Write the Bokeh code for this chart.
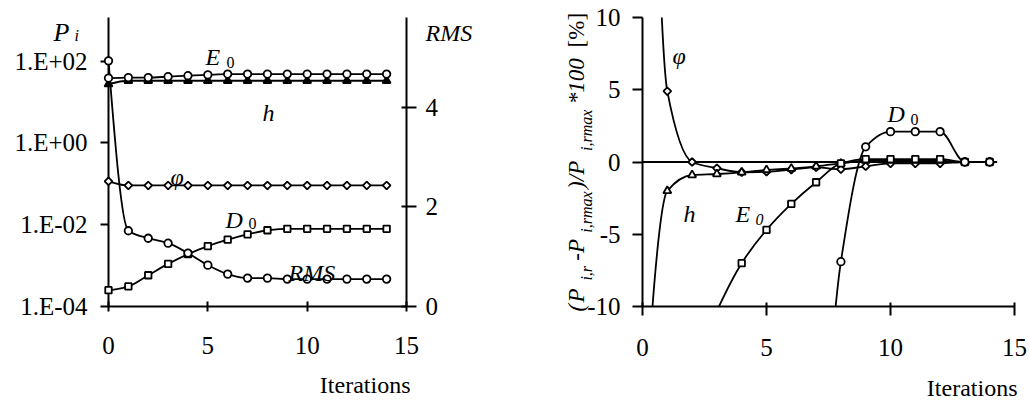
import numpy as np
from bokeh.plotting import figure
from bokeh.models import Range1d, LinearAxis, FixedTicker, CustomJSTickFormatter, LinearScale
from bokeh.core.properties import value
from bokeh.layouts import row
from bokeh.embed import file_html
from bokeh.resources import INLINE

# ---------------- data ----------------
iterations = list(range(15))

# left chart (P_i on log axis, RMS on right axis)
E0_left = [38.4, 39.5, 39.5, 41.5, 43.8, 46.0, 48.0, 48.0, 48.0, 48.0, 48.0, 48.0, 48.0, 48.0, 48.0]
h_left = [27.3, 33.0, 33.0, 33.0, 33.0, 33.0, 33.0, 33.0, 33.0, 33.0, 33.0, 33.0, 33.0, 33.0, 33.0]
phi_left = [0.115, 0.091, 0.091, 0.091, 0.091, 0.091, 0.091, 0.091, 0.091, 0.091, 0.091, 0.091, 0.091, 0.091, 0.091]
D0_left = [2.5e-4, 3.1e-4, 5.8e-4, 1.1e-3, 1.9e-3, 3.0e-3, 4.3e-3, 5.8e-3, 7.3e-3, 7.9e-3, 7.9e-3, 7.9e-3, 7.9e-3, 7.9e-3, 7.9e-3]
RMS = [4.93, 1.52, 1.37, 1.27, 1.07, 0.83, 0.65, 0.57, 0.57, 0.55, 0.55, 0.55, 0.55, 0.55, 0.55]

left_ticks = [1e-4, 1e-2, 1e0, 1e2]
rms_ticks = [0, 2, 4]
x_ticks = [0, 5, 10, 15]

# right chart: relative deviation in %
phi_right = [60.0, 4.9, 0.0, -0.43, -0.71, -0.67, -0.53, -0.37, -0.5, -0.3, -0.1, -0.1, -0.1, 0.0, 0.0]
h_right = [-20.0, -2.0, -0.9, -0.83, -0.72, -0.55, -0.45, -0.3, -0.1, 0.1, 0.1, 0.1, 0.1, 0.0, 0.0]
E0_right = [-17.0, -16.0, -14.5, -10.3, -7.0, -4.7, -2.9, -1.4, -0.1, 0.2, 0.2, 0.2, 0.2, 0.0, 0.0]
D0_right = [-97.0, -96.0, -93.0, -86.0, -76.0, -62.0, -46.0, -26.0, -6.9, 1.05, 2.1, 2.1, 2.1, 0.0, 0.0]
right_yticks = [-10, -5, 0, 5, 10]

FONT = "Liberation Serif"
LW = 1.8
TICK_FS = "25px"

# ---------------- layout constants (pixels) ----------------
L_W, L_H = 520, 400
L_LEFT, L_RIGHT, L_TOP, L_BOTTOM = 108, 114, 17, 91
R_W, R_H = 508, 400
R_LEFT, R_RIGHT, R_TOP, R_BOTTOM = 122, 14, 16, 94
R_OFF = L_W  # page x where the right figure starts

L_XR = (0, 15)
L_YR = (1e-4, 1.16e3)
L_RMS = (0, 5.8)
R_XR = (0, 15)
R_YR = (-10, 10)


def left_pos(px, py):
    fw = L_W - L_LEFT - L_RIGHT
    fh = L_H - L_TOP - L_BOTTOM
    x = L_XR[0] + (px - L_LEFT) / fw * (L_XR[1] - L_XR[0])
    a, b = np.log10(L_YR[0]), np.log10(L_YR[1])
    ly = a + (L_TOP + fh - py) / fh * (b - a)
    return x, 10 ** ly


def right_pos(px, py):
    fw = R_W - R_LEFT - R_RIGHT
    fh = R_H - R_TOP - R_BOTTOM
    x = R_XR[0] + (px - R_OFF - R_LEFT) / fw * (R_XR[1] - R_XR[0])
    y = R_YR[0] + (R_TOP + fh - py) / fh * (R_YR[1] - R_YR[0])
    return x, y


def bezier_parts(x, y, log=False):
    """Monotone (PCHIP-like) cubic smoothing drawn as Bezier segments."""
    x = np.asarray(x, float)
    y = np.asarray(y, float)
    yy = np.log10(y) if log else y
    d = np.diff(yy)
    n = len(yy)
    m = np.zeros(n)
    for i in range(1, n - 1):
        if d[i - 1] * d[i] > 0:
            m[i] = 2.0 / (1.0 / d[i - 1] + 1.0 / d[i])
    for (i, d0, d1) in ((0, d[0], d[1]), (n - 1, -d[-1], -d[-2])):
        mm = (3 * d0 - d1) / 2.0
        if np.sign(mm) != np.sign(d0):
            mm = 0.0
        elif np.sign(d0) != np.sign(d1) and abs(mm) > 3 * abs(d0):
            mm = 3 * d0
        m[i] = mm if i == 0 else -mm
    hstep = np.diff(x)
    cx0 = x[:-1] + hstep / 3.0
    cx1 = x[1:] - hstep / 3.0
    cy0 = yy[:-1] + m[:-1] * hstep / 3.0
    cy1 = yy[1:] - m[1:] * hstep / 3.0
    if log:
        cy0 = 10 ** cy0
        cy1 = 10 ** cy1
    return dict(x0=x[:-1], y0=y[:-1], x1=x[1:], y1=y[1:], cx0=cx0, cy0=cy0, cx1=cx1, cy1=cy1)


def draw_line(p, x, y, log=False, rng="default"):
    d = bezier_parts(x, y, log)
    p.bezier(line_color="black", line_width=LW, y_range_name=rng, **d)


def draw_markers(p, x, y, marker, size, rng="default", angle=0.0, level="glyph", fill="white"):
    r = p.scatter(x, y, marker=marker, size=size, angle=angle, fill_color=fill,
                  line_color="black", line_width=LW, y_range_name=rng)
    r.level = level


def style_axis(ax, tin, tout, standoff):
    ax.axis_line_width = 2
    ax.axis_line_color = "black"
    ax.major_tick_line_width = 2
    ax.major_tick_line_color = "black"
    ax.major_tick_in = tin
    ax.major_tick_out = tout
    ax.minor_tick_line_color = None
    ax.major_label_text_font = FONT
    ax.major_label_text_font_size = TICK_FS
    ax.major_label_text_color = "black"
    ax.major_label_standoff = standoff


def txt(p, pos, text, size=24, style="italic", align="left", angle=0.0):
    x, y = pos
    r = p.text(x=[x], y=[y], text=[text], text_font=value(FONT), text_font_size=f"{size}px",
               text_font_style=style, text_color="black", text_align=align,
               text_baseline="alphabetic", angle=angle)
    r.level = "annotation"


# ---------------- left figure ----------------
p1 = figure(width=L_W, height=L_H, y_axis_type="log",
            x_range=Range1d(*L_XR), y_range=Range1d(*L_YR),
            output_backend="svg", toolbar_location=None,
            min_border_left=L_LEFT, min_border_right=L_RIGHT,
            min_border_top=L_TOP, min_border_bottom=L_BOTTOM)
p1.outline_line_color = None
p1.grid.grid_line_color = None
p1.extra_y_ranges = {"rms": Range1d(*L_RMS)}
p1.extra_y_scales = {"rms": LinearScale()}

p1.xaxis.ticker = FixedTicker(ticks=x_ticks)
style_axis(p1.xaxis[0], 5, 5, 25)
p1.yaxis.ticker = FixedTicker(ticks=left_ticks)
p1.yaxis.formatter = CustomJSTickFormatter(code="""
const e = Math.round(Math.log10(tick));
const s = e < 0 ? "-" : "+";
return "1.E" + s + String(Math.abs(e)).padStart(2, "0");
""")
style_axis(p1.yaxis[0], 0, 8, 13)

rax = LinearAxis(y_range_name="rms", ticker=FixedTicker(ticks=rms_ticks))
style_axis(rax, 5, 10, 9)
p1.add_layout(rax, "right")

draw_line(p1, iterations, E0_left, log=True)
draw_line(p1, iterations, h_left, log=True)
draw_line(p1, iterations, phi_left, log=True)
draw_line(p1, iterations, D0_left, log=True)
draw_line(p1, iterations, RMS, rng="rms")
draw_markers(p1, iterations, h_left, "triangle", 8, level="annotation", fill="black")
draw_markers(p1, iterations, E0_left, "circle", 7.5, level="annotation")
draw_markers(p1, iterations, phi_left, "square", 5.5, angle=np.pi / 4, level="annotation")
draw_markers(p1, iterations, D0_left, "square", 6.5, level="annotation")
draw_markers(p1, iterations, RMS, "circle", 7.5, rng="rms", level="annotation")

# texts of the left chart (positions in page pixels)
txt(p1, left_pos(53, 32), "P", size=26)
txt(p1, left_pos(74, 35), "i", size=16)
txt(p1, left_pos(205, 57), "E")
txt(p1, left_pos(226, 62), "0", size=16, style="normal")
txt(p1, left_pos(262, 113), "h")
txt(p1, left_pos(170, 178), "φ")
txt(p1, left_pos(225, 222), "D")
txt(p1, left_pos(248, 225), "0", size=16, style="normal")
txt(p1, left_pos(288, 275), "RMS")
txt(p1, left_pos(425, 33), "RMS")
txt(p1, left_pos(410, 388), "Iterations", style="normal", align="right")

# ---------------- right figure ----------------
p2 = figure(width=R_W, height=R_H, x_range=Range1d(*R_XR), y_range=Range1d(*R_YR),
            output_backend="svg", toolbar_location=None,
            min_border_left=R_LEFT, min_border_right=R_RIGHT,
            min_border_top=R_TOP, min_border_bottom=R_BOTTOM)
p2.outline_line_color = None
p2.grid.grid_line_color = None
p2.xaxis.ticker = FixedTicker(ticks=x_ticks)
style_axis(p2.xaxis[0], 4, 9, 23)
p2.yaxis.ticker = FixedTicker(ticks=right_yticks)
p2.yaxis.formatter = CustomJSTickFormatter(code="return String(tick);")
style_axis(p2.yaxis[0], 0, 10, 12)

p2.segment(x0=[iterations[0]], y0=[0], x1=[iterations[-1] + 0.3], y1=[0],
           line_color="black", line_width=1.8)

draw_line(p2, iterations, phi_right)
draw_line(p2, iterations, h_right)
draw_line(p2, iterations, E0_right)
draw_line(p2, iterations, D0_right)
draw_markers(p2, iterations, phi_right, "square", 5.5, angle=np.pi / 4)
draw_markers(p2, iterations, h_right, "triangle", 8)
draw_markers(p2, iterations, E0_right, "square", 6.5)
draw_markers(p2, iterations, D0_right, "circle", 7.5)

txt(p2, right_pos(672, 55), "φ")
txt(p2, right_pos(887, 113), "D")
txt(p2, right_pos(910, 118), "0", size=16, style="normal")
txt(p2, right_pos(683, 213), "h")
txt(p2, right_pos(735, 213), "E")
txt(p2, right_pos(755, 219), "0", size=16)
txt(p2, right_pos(1017, 388), "Iterations", style="normal", align="right")

# rotated y title built from pieces (bottom to top): text, size, style, baseline x, start y
title_parts = [("(", 23, "italic", 576, 311), ("P", 23, "italic", 576, 302),
               ("i,r", 16, "italic", 586, 280),
               ("-P", 23, "italic", 576, 260), ("i,rmax", 16, "italic", 586, 232),
               (")/P", 23, "italic", 576, 188), ("i,rmax", 16, "italic", 586, 150),
               ("*100", 23, "italic", 576, 103), ("[%]", 23, "normal", 576, 46)]
for t, sz, st, bx, sy in title_parts:
    txt(p2, right_pos(bx, sy), t, size=sz, style=st, angle=np.pi / 2)

layout = row(p1, p2)
open("out.html", "w").write(file_html(layout, INLINE))
